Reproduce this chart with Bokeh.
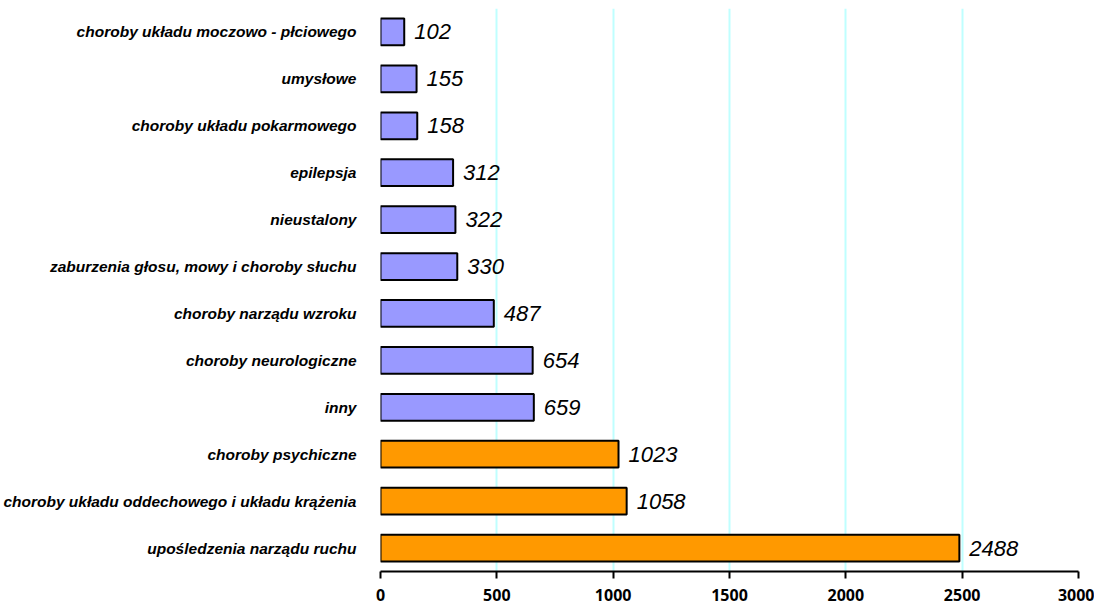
from bokeh.plotting import figure
from bokeh.models import ColumnDataSource, FactorRange, Range1d, FixedTicker, LabelSet
from bokeh.core.properties import value
from bokeh.embed import file_html
from bokeh.resources import INLINE

categories = [
    "upośledzenia narządu ruchu",
    "choroby układu oddechowego i układu krążenia",
    "choroby psychiczne",
    "inny",
    "choroby neurologiczne",
    "choroby narządu wzroku",
    "zaburzenia głosu, mowy i choroby słuchu",
    "nieustalony",
    "epilepsja",
    "choroby układu pokarmowego",
    "umysłowe",
    "choroby układu moczowo - płciowego",
]
values = [2488, 1058, 1023, 659, 654, 487, 330, 322, 312, 158, 155, 102]
colors = ["#FF9900"] * 3 + ["#9999FF"] * 9
ticks = [0, 500, 1000, 1500, 2000, 2500, 3000]

src = ColumnDataSource(dict(cat=categories, val=values, col=colors,
                            lbl=[str(v) for v in values]))

p = figure(width=1094, height=612, output_backend="svg", toolbar_location=None,
           y_range=FactorRange(factors=categories, range_padding=0),
           x_range=Range1d(0, 3000),
           min_border_top=8, min_border_right=16, min_border_bottom=41, min_border_left=0)

p.hbar(y="cat", right="val", left=0, height=0.57, source=src,
       fill_color="col", line_color="black", line_width=2)

labels = LabelSet(x="val", y="cat", text="lbl", source=src, x_offset=10,
                  text_font=value("Liberation Sans"), text_font_style="italic",
                  text_font_size="22px", text_baseline="middle", text_color="black")
p.add_layout(labels)

p.outline_line_color = None
p.ygrid.grid_line_color = None
p.xgrid.grid_line_color = "#BFFFFF"
p.xgrid.grid_line_width = 2
p.xgrid.ticker = FixedTicker(ticks=ticks)

p.xaxis.ticker = FixedTicker(ticks=ticks)
p.xaxis.axis_line_color = "black"
p.xaxis.axis_line_width = 2
p.xaxis.major_tick_line_color = "black"
p.xaxis.major_tick_line_width = 2
p.xaxis.major_tick_out = 7
p.xaxis.major_tick_in = 0
p.xaxis.minor_tick_line_color = None
p.xaxis.major_label_text_font = "Open Sans"
p.xaxis.major_label_text_font_style = "bold"
p.xaxis.major_label_text_font_size = "16px"
p.xaxis.major_label_text_color = "black"
p.xaxis.major_label_standoff = 10

p.yaxis.axis_line_color = None
p.yaxis.major_tick_line_color = None
p.yaxis.minor_tick_line_color = None
p.yaxis.major_label_text_font = "Liberation Sans"
p.yaxis.major_label_text_font_style = "bold italic"
p.yaxis.major_label_text_font_size = "15.5px"
p.yaxis.major_label_text_color = "black"
p.yaxis.major_label_standoff = 18

open("out.html", "w").write(file_html(p, INLINE))
